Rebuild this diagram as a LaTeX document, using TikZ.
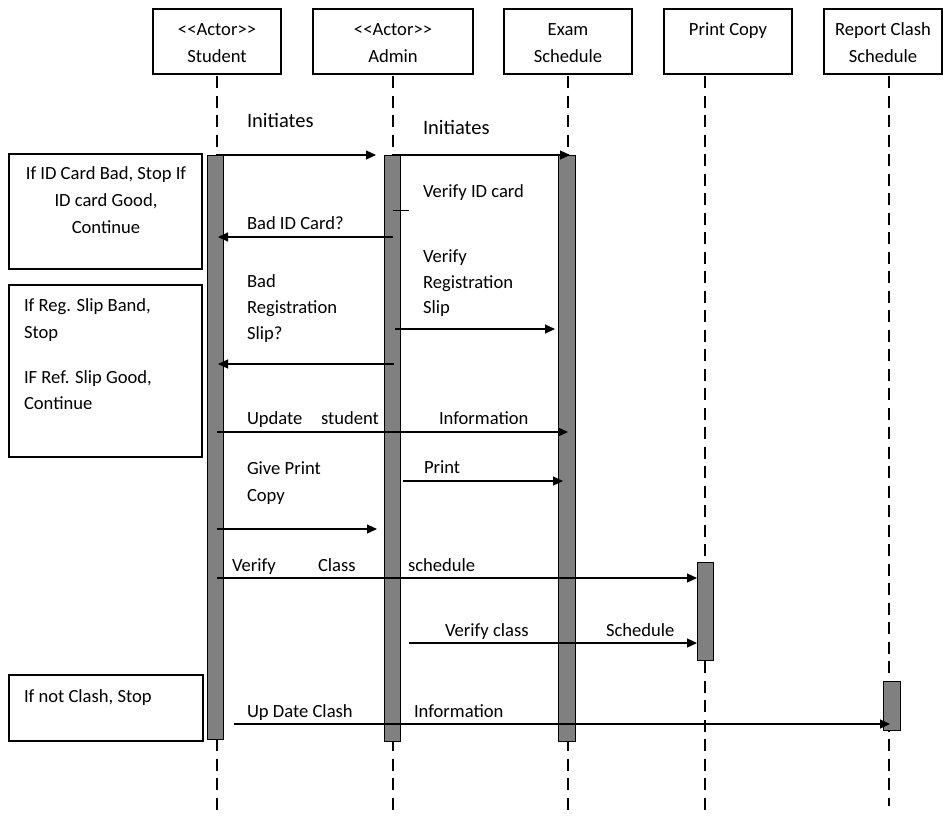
\documentclass[tikz,border=0pt]{standalone}
\usepackage{fontspec}
\setmainfont{Carlito}[Ligatures=TeXOff]
\usetikzlibrary{arrows.meta}
\definecolor{barfill}{HTML}{808080}
\begin{document}
\begin{tikzpicture}[x=1pt,y=-1pt,
  every node/.style={inner sep=0pt, outer sep=0pt},
  headbox/.style={draw, line width=1.2pt, minimum width=128pt, minimum height=65pt},
  lifeline/.style={line width=2.8pt, dash pattern=on 12pt off 7.5pt},
  actbar/.style={draw, line width=0.9pt, fill=barfill, minimum width=16pt},
  notebox/.style={draw, line width=1.2pt, minimum width=193pt},
  msg/.style={line width=1.2pt, -{Triangle[length=10pt,width=9pt]}},
  tick/.style={line width=1pt},
  txt/.style={anchor=base west, font=\fontsize{18.6}{22}\selectfont},
  ctxt/.style={anchor=base, font=\fontsize{18.6}{22}\selectfont},
  bigtxt/.style={anchor=base west, font=\fontsize{20.5}{24}\selectfont},
]
\useasboundingbox (0,0) rectangle (943,815);

% ---------- participant boxes ----------
\node[headbox] (hStudent) at (217,41.5) {};
\node[headbox, minimum width=160pt] (hAdmin) at (393,41.5) {};
\node[headbox] (hExam) at (568,41.5) {};
\node[headbox] (hPrint) at (728,41.5) {};
\node[headbox, minimum width=118pt] (hReport) at (883,41.5) {};

\node[ctxt] (tS1) at (217,35) {<<Actor>>};
\node[ctxt] (tS2) at (217,62) {Student};
\node[ctxt] (tA1) at (393,35) {<<Actor>>};
\node[ctxt] (tA2) at (393,62) {Admin};
\node[ctxt] (tE1) at (568,35) {Exam};
\node[ctxt] (tE2) at (568,62) {Schedule};
\node[ctxt] (tP1) at (728,35) {Print Copy};
\node[ctxt] (tR1) at (883,35) {Report Clash};
\node[ctxt] (tR2) at (883,62) {Schedule};

% ---------- lifelines ----------
\coordinate (sL) at (217,76);
\coordinate (aL) at (393,76);
\coordinate (eL) at (568,76);
\coordinate (pL) at (705,76);
\coordinate (rL) at (889,76);
\draw[lifeline] (sL) -- (sL |- 0,815);
\draw[lifeline] (aL) -- (aL |- 0,815);
\draw[lifeline] (eL) -- (eL |- 0,815);
\draw[lifeline] (pL) -- (pL |- 0,815);
\draw[lifeline] (rL) -- (rL |- 0,806);

% ---------- activation bars ----------
\node[actbar, minimum height=584pt] (sBar) at (215,447) {};
\node[actbar, minimum height=586pt] (aBar) at (392,448) {};
\node[actbar, minimum width=17pt, minimum height=586pt] (eBar) at (566.5,448) {};
\node[actbar, minimum height=98pt] (pBar) at (705,611) {};
\node[actbar, minimum width=17pt, minimum height=49pt] (rBar) at (891.5,705.5) {};

% ---------- notes ----------
\node[notebox, minimum height=115pt] (note1) at (105.5,211.5) {};
\node[notebox, minimum height=172pt] (note2) at (105.5,371) {};
\node[notebox, minimum width=194pt, minimum height=66pt] (note3) at (106,708) {};

\node[ctxt] (n1a) at (106,179) {If ID Card Bad, Stop If};
\node[ctxt] (n1b) at (106,206) {ID card Good,};
\node[ctxt] (n1c) at (106,233) {Continue};
\node[txt] (n2a) at (24,311) {If Reg. Slip Band,};
\node[txt] (n2b) at (24,338) {Stop};
\node[txt] (n2c) at (24,383) {IF Ref. Slip Good,};
\node[txt] (n2d) at (24,409) {Continue};
\node[txt] (n3a) at (24,702) {If not Clash, Stop};

% ---------- messages ----------
\coordinate (m1s) at (217,155);  \coordinate (m1e) at (376,155);
\coordinate (m2s) at (393,155);  \coordinate (m2e) at (570,155);
\coordinate (t1s) at (393,210);  \coordinate (t1e) at (409,210);
\coordinate (m3s) at (393,237);  \coordinate (m3e) at (218,237);
\coordinate (m4s) at (395,329);  \coordinate (m4e) at (555,329);
\coordinate (m5s) at (394,364);  \coordinate (m5e) at (218,364);
\coordinate (m6s) at (217,432);  \coordinate (m6e) at (568,432);
\coordinate (m7s) at (403,481);  \coordinate (m7e) at (563,481);
\coordinate (m8s) at (217,529);  \coordinate (m8e) at (377,529);
\coordinate (m9s) at (217,578);  \coordinate (m9e) at (697,578);
\coordinate (m10s) at (409,643); \coordinate (m10e) at (697,643);
\coordinate (m11s) at (234,724); \coordinate (m11e) at (890,724);

\draw[msg] (m1s) -- (m1e);
\draw[msg] (m2s) -- (m2e);
\draw[tick] (t1s) -- (t1e);
\draw[msg] (m3s) -- (m3e);
\draw[msg] (m4s) -- (m4e);
\draw[msg] (m5s) -- (m5e);
\draw[msg] (m6s) -- (m6e);
\draw[msg] (m7s) -- (m7e);
\draw[msg] (m8s) -- (m8e);
\draw[msg] (m9s) -- (m9e);
\draw[msg] (m10s) -- (m10e);
\draw[msg] (m11s) -- (m11e);

% ---------- message labels ----------
\node[bigtxt] (l1) at (247,127) {Initiates};
\node[bigtxt] (l2) at (423,134) {Initiates};
\node[txt] (l3) at (423,197) {Verify ID card};
\node[txt] (l4) at (247,229) {Bad ID Card?};
\node[txt] (l5a) at (423,262) {Verify};
\node[txt] (l5b) at (423,288) {Registration};
\node[txt] (l5c) at (423,313) {Slip};
\node[txt] (l6a) at (247,287) {Bad};
\node[txt] (l6b) at (247,313) {Registration};
\node[txt] (l6c) at (247,339) {Slip?};
\node[txt] (l7a) at (247,424) {Update};
\node[txt] (l7b) at (321,424) {student};
\node[txt] (l7c) at (439,424) {Information};
\node[txt] (l8) at (424,473) {Print};
\node[txt] (l9a) at (247,474) {Give Print};
\node[txt] (l9b) at (247,501) {Copy};
\node[txt] (l10a) at (232,571) {Verify};
\node[txt] (l10b) at (318,571) {Class};
\node[txt] (l10c) at (408,571) {schedule};
\node[txt] (l11a) at (445,636) {Verify class};
\node[txt] (l11b) at (606,636) {Schedule};
\node[txt] (l12a) at (247,717) {Up Date Clash};
\node[txt] (l12b) at (414,717) {Information};
\end{tikzpicture}
\end{document}
